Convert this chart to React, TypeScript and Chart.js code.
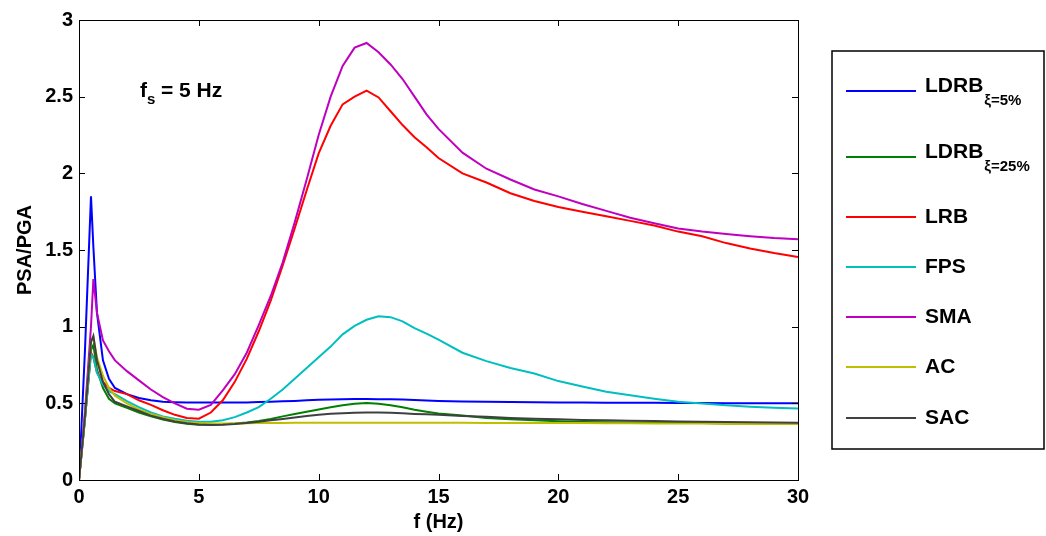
import React, { useEffect, useRef } from "react";
import { Chart, registerables } from "chart.js";

Chart.register(...registerables);

const freq = [0, 0.25, 0.5, 0.6, 0.75, 1, 1.25, 1.5, 2, 2.5, 3, 3.5, 4, 4.5, 5, 5.5, 6, 6.5, 7, 7.5, 8, 8.5, 9, 9.5, 10, 10.5, 11, 11.5, 12, 12.5, 13, 13.5, 14, 14.5, 15, 16, 17, 18, 19, 20, 21, 22, 23, 24, 25, 26, 27, 28, 29, 30];

const ldrb5 = [0, 0.85, 1.85, 1.52, 1.09, 0.78, 0.66, 0.6, 0.56, 0.535, 0.52, 0.51, 0.507, 0.505, 0.505, 0.505, 0.505, 0.505, 0.506, 0.508, 0.51, 0.513, 0.516, 0.52, 0.523, 0.525, 0.527, 0.528, 0.528, 0.527, 0.526, 0.525, 0.522, 0.518, 0.515, 0.512, 0.51, 0.508, 0.507, 0.506, 0.505, 0.504, 0.503, 0.503, 0.502, 0.502, 0.501, 0.501, 0.5, 0.5];
const ldrb25 = [0, 0.4, 0.85, 0.88, 0.72, 0.6, 0.53, 0.5, 0.47, 0.44, 0.415, 0.395, 0.378, 0.367, 0.36, 0.36, 0.363, 0.368, 0.375, 0.385, 0.398, 0.415, 0.43, 0.445, 0.46, 0.475, 0.488, 0.498, 0.502, 0.498, 0.488, 0.474, 0.458, 0.445, 0.433, 0.42, 0.405, 0.396, 0.389, 0.383, 0.379, 0.377, 0.375, 0.374, 0.372, 0.371, 0.369, 0.368, 0.367, 0.365];
const lrb = [0, 0.4, 0.83, 0.8, 0.7, 0.64, 0.6, 0.58, 0.56, 0.52, 0.49, 0.455, 0.425, 0.405, 0.4, 0.44, 0.52, 0.64, 0.79, 0.97, 1.17, 1.4, 1.64, 1.89, 2.13, 2.31, 2.45, 2.5, 2.54, 2.495, 2.405, 2.315, 2.235, 2.17, 2.1, 2.0, 1.94, 1.87, 1.82, 1.78, 1.75, 1.72, 1.69, 1.66, 1.62, 1.59, 1.545, 1.51, 1.48, 1.455];
const fps = [0, 0.4, 0.82, 0.8, 0.7, 0.62, 0.58, 0.56, 0.515, 0.475, 0.44, 0.415, 0.4, 0.387, 0.38, 0.38, 0.39, 0.41, 0.44, 0.475, 0.53, 0.59, 0.66, 0.73, 0.8, 0.87, 0.95, 1.005, 1.045, 1.068, 1.062, 1.035, 0.99, 0.955, 0.915, 0.83, 0.775, 0.73, 0.695, 0.645, 0.61, 0.575, 0.552, 0.53, 0.51, 0.499, 0.487, 0.478, 0.471, 0.467];
const sma = [0, 0.45, 1.0, 1.31, 1.09, 0.91, 0.84, 0.78, 0.71, 0.65, 0.59, 0.54, 0.5, 0.465, 0.458, 0.49, 0.585, 0.69, 0.83, 1.01, 1.2, 1.42, 1.68, 1.96, 2.25, 2.5, 2.7, 2.82, 2.85, 2.79, 2.71, 2.615, 2.5, 2.385, 2.29, 2.135, 2.03, 1.96, 1.895, 1.85, 1.8, 1.755, 1.71, 1.675, 1.64, 1.62, 1.605, 1.59, 1.578, 1.57];
const ac = [0, 0.42, 0.9, 0.93, 0.8, 0.68, 0.6, 0.55, 0.5, 0.46, 0.43, 0.41, 0.39, 0.378, 0.372, 0.368, 0.368, 0.369, 0.37, 0.371, 0.372, 0.372, 0.373, 0.373, 0.373, 0.373, 0.374, 0.374, 0.374, 0.374, 0.374, 0.374, 0.373, 0.373, 0.373, 0.373, 0.372, 0.372, 0.372, 0.371, 0.371, 0.37, 0.37, 0.369, 0.369, 0.368, 0.367, 0.366, 0.366, 0.365];
const sac = [0, 0.42, 0.9, 0.94, 0.78, 0.64, 0.56, 0.51, 0.48, 0.45, 0.42, 0.4, 0.382, 0.37, 0.362, 0.358, 0.36, 0.365, 0.372, 0.38, 0.39, 0.398, 0.407, 0.417, 0.426, 0.432, 0.436, 0.439, 0.44, 0.44, 0.438, 0.435, 0.431, 0.428, 0.425, 0.418, 0.412, 0.405, 0.4, 0.396, 0.392, 0.389, 0.387, 0.384, 0.382, 0.38, 0.378, 0.376, 0.375, 0.374];

const seriesNames = ["LDRB", "LDRB", "LRB", "FPS", "SMA", "AC", "SAC"];
const seriesSubs = ["ξ=5%", "ξ=25%", "", "", "", "", ""];
const seriesColors = ["#0000FF", "#008000", "#FF0000", "#00BFBF", "#BF00BF", "#BFBF00", "#404040"];
const seriesValues = [ldrb5, ldrb25, lrb, fps, sma, ac, sac];

const xTicks = [0, 5, 10, 15, 20, 25, 30];
const yTicks = [0, 0.5, 1, 1.5, 2, 2.5, 3];

const FONT = "'Liberation Sans', Arial, Helvetica, sans-serif";

const framePlugin = {
  id: "matlabFrame",
  afterDraw(chart: any) {
    const ctx = chart.ctx;
    const { left, right, top, bottom } = chart.chartArea;
    const xs = chart.scales.x;
    const ys = chart.scales.y;
    ctx.save();
    ctx.strokeStyle = "#000";
    ctx.lineWidth = 1;
    ctx.strokeRect(Math.round(left) + 0.5, Math.round(top) + 0.5, Math.round(right - left), Math.round(bottom - top));
    const tl = 6;
    ctx.beginPath();
    xTicks.forEach((v) => {
      const px = Math.round(xs.getPixelForValue(v)) + 0.5;
      ctx.moveTo(px, bottom);
      ctx.lineTo(px, bottom - tl);
      ctx.moveTo(px, top);
      ctx.lineTo(px, top + tl);
    });
    yTicks.forEach((v) => {
      const py = Math.round(ys.getPixelForValue(v)) + 0.5;
      ctx.moveTo(left, py);
      ctx.lineTo(left + tl, py);
      ctx.moveTo(right, py);
      ctx.lineTo(right - tl, py);
    });
    ctx.stroke();

    // annotation f_s = 5 Hz
    ctx.fillStyle = "#000";
    ctx.textBaseline = "alphabetic";
    ctx.textAlign = "left";
    ctx.font = `bold 21px ${FONT}`;
    ctx.fillText("f", 140, 97);
    ctx.font = `bold 15px ${FONT}`;
    ctx.fillText("s", 147, 104);
    ctx.font = `bold 21px ${FONT}`;
    ctx.fillText("= 5 Hz", 161, 97);

    // legend
    const lx0 = 832, ly0 = 51, lx1 = 1044, ly1 = 449;
    ctx.lineWidth = 1.5;
    ctx.strokeStyle = "#000";
    ctx.strokeRect(lx0, ly0, lx1 - lx0, ly1 - ly0);
    const rows = [91, 157, 217, 267, 317, 367, 418];
    seriesNames.forEach((name, i) => {
      const y = rows[i];
      ctx.strokeStyle = seriesColors[i];
      ctx.lineWidth = 2;
      ctx.beginPath();
      ctx.moveTo(846, y);
      ctx.lineTo(916, y);
      ctx.stroke();
      ctx.fillStyle = "#000";
      ctx.textBaseline = "middle";
      if (seriesSubs[i]) {
        ctx.font = `bold 21px ${FONT}`;
        ctx.fillText(name, 925, y - 5);
        const w = ctx.measureText(name).width;
        ctx.font = `bold 15px ${FONT}`;
        ctx.fillText(seriesSubs[i], 925 + w + 1, y + 10);
      } else {
        ctx.font = `bold 21px ${FONT}`;
        ctx.fillText(name, 925, y);
      }
    });
    ctx.restore();
  },
};

export default function App() {
  const ref = useRef<HTMLCanvasElement | null>(null);
  useEffect(() => {
    if (!ref.current) return;
    const chart = new Chart(ref.current, {
      type: "line",
      data: {
        datasets: seriesValues.map((vals, i) => ({
          label: seriesNames[i] + seriesSubs[i],
          data: freq.map((f, j) => ({ x: f, y: vals[j] })),
          borderColor: seriesColors[i],
          backgroundColor: seriesColors[i],
          borderWidth: 2,
          pointRadius: 0,
          tension: 0,
          fill: false,
          order: seriesValues.length - i,
        })),
      },
      options: {
        animation: false,
        responsive: false,
        maintainAspectRatio: false,
        devicePixelRatio: 1,
        layout: { padding: { left: 0, top: 20, right: 248, bottom: 0 } },
        plugins: { legend: { display: false }, tooltip: { enabled: false } },
        scales: {
          x: {
            type: "linear",
            min: 0,
            max: 30,
            grid: { display: false, drawTicks: false },
            border: { display: false },
            ticks: {
              stepSize: 5,
              padding: 5,
              color: "#000",
              font: { family: FONT, size: 20, weight: "bold" },
              maxRotation: 0,
            },
            title: {
              display: true,
              text: "f (Hz)",
              color: "#000",
              font: { family: FONT, size: 20, weight: "bold" },
              padding: { top: 0, bottom: 2 },
            },
            afterFit: (s: any) => {
              s.height = 56;
            },
          },
          y: {
            type: "linear",
            min: 0,
            max: 3,
            grid: { display: false, drawTicks: false },
            border: { display: false },
            ticks: {
              stepSize: 0.5,
              padding: 6,
              color: "#000",
              font: { family: FONT, size: 20, weight: "bold" },
              callback: (v: any) => String(v),
            },
            title: {
              display: true,
              text: "PSA/PGA",
              color: "#000",
              font: { family: FONT, size: 20, weight: "bold" },
              padding: { top: 13, bottom: 0 },
            },
            afterFit: (s: any) => {
              s.width = 79;
            },
          },
        },
      },
      plugins: [framePlugin],
    });
    return () => chart.destroy();
  }, []);
  return (
    <div style={{ position: "fixed", left: 0, top: 0, width: 1046, height: 536, background: "#fff" }}>
      <canvas ref={ref} width={1046} height={536} style={{ width: 1046, height: 536 }} />
    </div>
  );
}
